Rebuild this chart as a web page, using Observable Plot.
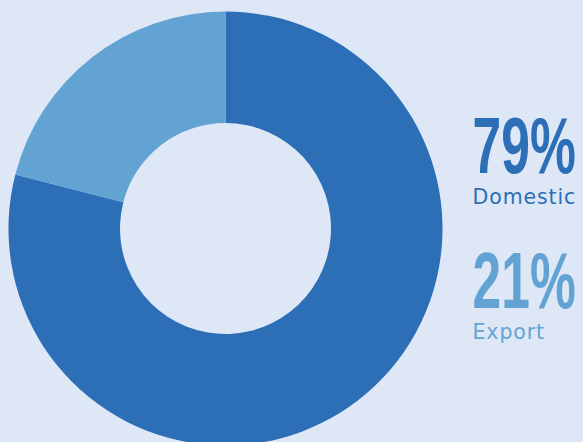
<!DOCTYPE html>
<html><head><meta charset="utf-8">
<script src="https://cdn.jsdelivr.net/npm/d3@7"></script>
<script src="https://cdn.jsdelivr.net/npm/@observablehq/plot@0.6"></script>
<style>html,body{margin:0;padding:0;background:#dee7f5;overflow:hidden}</style>
</head><body><div id="chart"></div>
<script>
// ---- data ----
const categories = ["Domestic", "Export"];
const values = [79, 21];
const percentLabels = ["79%", "21%"];
const colors = ["#2c6fb7", "#63a3d4"];

// ---- layout ----
const W = 583, H = 442;
const cx = 225.5, cy = 228.5, rOuter = 217, rInner = 105.5;
const textX = 472, pctBase0 = 172, labelBase0 = 203, rowStep = 135;
const pctScaleX = 0.645;

const rows = categories.map((c, i) => ({category: c, value: values[i], pct: percentLabels[i]}));

const donut = (index, scales) => {
  const pie = d3.pie().sort(null).value(d => d.value)(rows);
  const arc = d3.arc().innerRadius(rInner).outerRadius(rOuter);
  const g = d3.create("svg:g")
    .attr("aria-label", "donut")
    .attr("transform", `translate(${scales.x(cx)},${scales.y(cy)})`);
  g.selectAll("path").data(pie).join("path")
    .attr("d", arc)
    .attr("fill", d => scales.color(d.data.category));
  return g.node();
};

const chart = Plot.plot({
  width: W, height: H, margin: 0,
  style: {background: "#dee7f5", overflow: "hidden"},
  x: {domain: [0, W], range: [0, W], axis: null},
  y: {domain: [0, H], range: [0, H], axis: null},
  color: {domain: categories, range: colors},
  marks: [
    donut,
    Plot.text(rows, {
      x: () => textX, y: (d, i) => pctBase0 + i * rowStep,
      text: "pct", fill: "category",
      textAnchor: "start", lineAnchor: "bottom",
      fontFamily: "Liberation Sans, Arial, sans-serif", fontWeight: "bold", fontSize: 80
    }),
    Plot.text(rows, {
      x: () => textX, y: (d, i) => labelBase0 + i * rowStep,
      text: "category", fill: "category",
      textAnchor: "start", lineAnchor: "bottom",
      fontFamily: "DejaVu Sans, sans-serif", fontSize: 20.5
    })
  ]
});
document.getElementById("chart").appendChild(chart);
d3.select(chart).selectAll('text').each(function() {
  if (percentLabels.includes(this.textContent)) {
    const t = this.getAttribute("transform") || "";
    const x = this.getAttribute("x"), y = this.getAttribute("y");
    if (t) {
      this.setAttribute("transform", `${t} scale(${pctScaleX},1)`);
    } else {
      this.setAttribute("transform", `translate(${x || 0},${y || 0}) scale(${pctScaleX},1)`);
      this.removeAttribute("x"); this.removeAttribute("y");
    }
  } else if (categories.includes(this.textContent)) {
    this.style.letterSpacing = "0.9px";
  }
});
</script>
</body></html>
